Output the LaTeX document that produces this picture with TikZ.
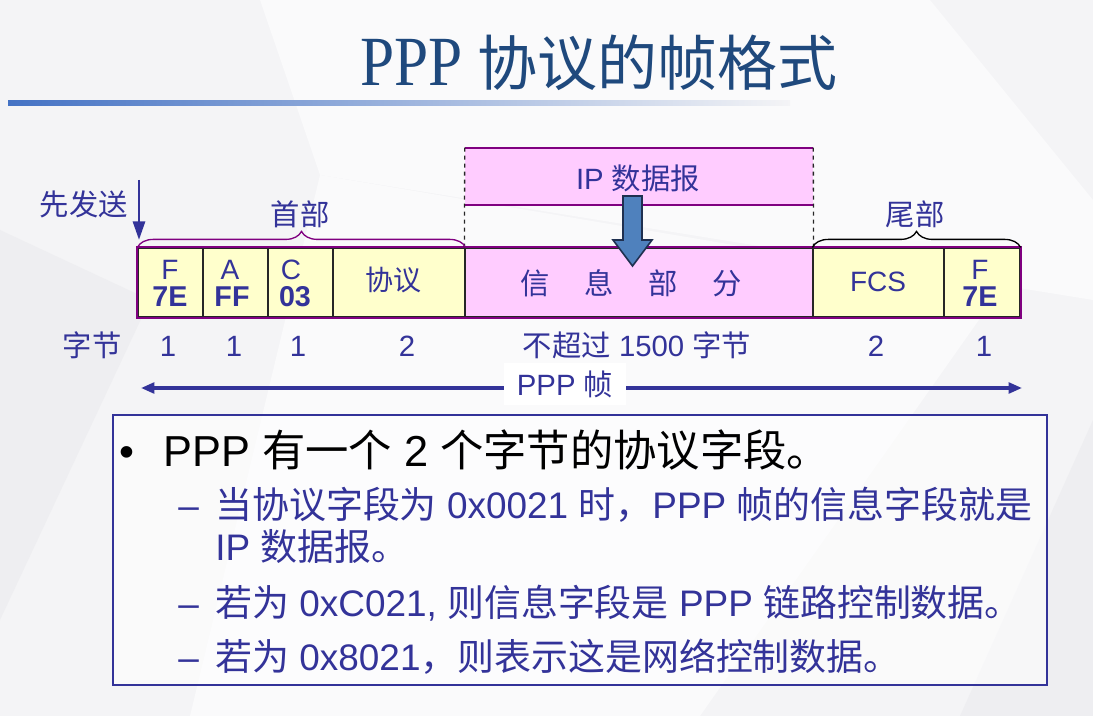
\documentclass[tikz,border=0pt]{standalone}
\usepackage{fontspec}
\setmainfont{Liberation Sans}
\newfontfamily\cjk{Noto Sans CJK SC}
\newfontfamily\titleserif{Liberation Serif}
\usetikzlibrary{decorations.pathreplacing,arrows.meta}
\definecolor{txtblue}{HTML}{333399}
\definecolor{titleblue}{HTML}{1F497D}
\definecolor{frameyellow}{HTML}{FFFFCC}
\definecolor{framepink}{HTML}{FFCCFF}
\definecolor{framepurple}{HTML}{800080}
\definecolor{bgcol}{HTML}{F4F4F6}
\definecolor{bglight}{HTML}{FAFAFB}
\definecolor{bgdark}{HTML}{EEEEF1}
\definecolor{lineblue}{HTML}{4472C4}
\definecolor{arrowfill}{HTML}{4F81BD}
\definecolor{arrowdraw}{HTML}{1F3050}
\newcommand\zh[1]{{\cjk #1}}
\newcommand\fsz[1]{\fontsize{#1}{1.2\dimexpr#1pt\relax}\selectfont}
\begin{document}
\begin{tikzpicture}[x=0.75pt,y=-0.75pt,
  fieldbox/.style={draw=black!85,line width=0.9pt,inner sep=0pt,minimum height=51.75pt},
  lbl/.style={text=txtblue,inner sep=0pt},
  small/.style={lbl,font=\fsz{21}},
  bold/.style={lbl,font=\fsz{21.5}\bfseries},
  mid/.style={lbl,font=\fsz{21}},
  row/.style={lbl,font=\fsz{22},anchor=base},
  brace/.style={decorate,decoration={brace,amplitude=12pt},line width=1pt},
  bodyline/.style={inner sep=0pt,anchor=base west,text=txtblue,font=\fsz{27.7}},
]
\useasboundingbox (0,0) rectangle (1093,716);
% background
\fill[bgcol] (0,0) rectangle (1093,716);
\fill[bglight] (260,0) -- (930,0) -- (1093,200) -- (1093,300) -- (320,175) -- cycle;
\fill[bglight] (320,175) -- (1000,290) -- (700,716) -- (190,716) -- cycle;
\fill[bgdark] (0,230) -- (150,300) -- (0,620) -- cycle;
\fill[bgdark] (1093,420) -- (960,716) -- (1093,716) -- cycle;
% title
\node[inner sep=0pt,anchor=base west,text=titleblue] (title) at (360,86)
  {\titleserif\fsz{46}\scalebox{1}[1.15]{PPP} \cjk\fsz{45}协议的帧格式};
\shade[left color=lineblue,right color=bgcol] (8,101) rectangle (790,106);

% IP datagram box
\node[fill=framepink,inner sep=0pt,minimum width=261pt,minimum height=42.75pt] (ip) at (639,176.5) {};
\node[lbl,font=\fsz{22}] (iptext) at (638,178) {IP \zh{数据报}};

% frame fields
\node[fieldbox,fill=frameyellow,minimum width=48.75pt] (bF) at (170.5,282.5) {};
\node[fieldbox,fill=frameyellow,minimum width=48.75pt] (bA) at (235.5,282.5) {};
\node[fieldbox,fill=frameyellow,minimum width=48.75pt] (bC) at (300.5,282.5) {};
\node[fieldbox,fill=frameyellow,minimum width=99pt] (bP) at (399,282.5) {};
\node[fieldbox,fill=framepink,minimum width=261pt] (bI) at (639,282.5) {};
\node[fieldbox,fill=frameyellow,minimum width=98.25pt] (bS) at (878.5,282.5) {};
\node[fieldbox,fill=frameyellow,minimum width=57pt] (bE) at (982,282.5) {};
\draw[framepurple,line width=1.4pt] (bF.north west) rectangle (bE.south east);

% IP box borders and dashed guides
\draw[framepurple,line width=1.4pt] (ip.north west) -- (ip.north east);
\draw[framepurple,line width=1.4pt] (ip.south west) -- (ip.south east);
\draw[black!85,dashed,line width=1pt] (ip.north west) -- (bI.north west);
\draw[black!85,dashed,line width=1pt] (ip.north east) -- (bI.north east);

% field texts
\node[small] (tF1) at (170,270) {F};
\node[bold] (tF2) at (170,297) {7E};
\node[small] (tA1) at (230,270) {A};
\node[bold] (tA2) at (232,297) {FF};
\node[small] (tC1) at (291,270) {C};
\node[bold] (tC2) at (295,297) {03};
\node[mid] (tP) at (393,280) {\zh{协议}};
\node[lbl,font=\fsz{22}] (tI) at (631,283) {\zh{信\hspace{26pt}息\hspace{26pt}部\hspace{26pt}分}};
\node[mid] (tS) at (878,282) {FCS};
\node[small] (tE1) at (980,270) {F};
\node[bold] (tE2) at (980,297) {7E};

% thick blue arrow
\filldraw[fill=arrowfill,draw=arrowdraw,line width=1.2pt,line join=miter]
  (623,196) -- (642,196) -- (642,240) -- (652,240) -- (632.5,266) -- (613,240) -- (623,240) -- cycle;

% braces
\draw[brace,framepurple] (bF.north west) -- (bP.north east);
\draw[brace,black] (bS.north west) -- (bE.north east);
\node[lbl,font=\fsz{22}] (head) at (300,214) {\zh{首部}};
\node[lbl,font=\fsz{22}] (tail) at (915,214) {\zh{尾部}};

% send first
\node[lbl,font=\fsz{22}] (first) at (84,204) {\zh{先发送}};
\coordinate (sa) at (139,180);
\coordinate (sb) at (139,240);
\draw[txtblue,line width=2.2pt,-{Triangle[length=14pt,width=9pt]}] (sa) -- (sb);

% byte counts row
\node[row] (r0) at (92,357) {\zh{字节}};
\node[row] (r1) at (168,357) {1};
\node[row] (r2) at (234,357) {1};
\node[row] (r3) at (298,357) {1};
\node[row] (r4) at (407,357) {2};
\node[row] (r5) at (637,357) {\zh{不超过} 1500 \zh{字节}};
\node[row] (r6) at (876,357) {2};
\node[row] (r7) at (984,357) {1};

% PPP frame arrow
\coordinate (pl) at (141,388);
\coordinate (pr) at (1022,388);
\draw[txtblue,line width=2.4pt,{Triangle[length=10pt,width=8pt]}-{Triangle[length=10pt,width=8pt]}] (pl) -- (pr);
\node[fill=white,inner sep=0pt,minimum width=91.5pt,minimum height=32pt,text=txtblue,font=\fsz{22}] (ppp) at (565,384) {PPP \zh{帧}};

% bottom text box
\node[draw=txtblue,line width=1.2pt,fill=white,fill opacity=0.55,inner sep=0pt,minimum width=700.5pt,minimum height=202.5pt] (note) at (580,550) {};
\node[inner sep=0pt,anchor=base west,font=\fsz{32}] (bul) at (119,467) {•};
\node[inner sep=0pt,anchor=base west,font=\fsz{32.5}] (l1) at (163,467) {PPP \zh{有一个} 2 \zh{个字节的协议字段。}};
\node[bodyline] (d1) at (178,518) {–};
\node[bodyline] (l2) at (215,518) {\zh{当协议字段为} 0x0021 \zh{时，}PPP \zh{帧的信息字段就是}};
\node[bodyline] (l3) at (215,561) {IP \zh{数据报。}};
\node[bodyline] (d2) at (178,616) {–};
\node[bodyline] (l4) at (215,616) {\zh{若为} 0xC021, \zh{则信息字段是} PPP \zh{链路控制数据。}};
\node[bodyline] (d3) at (178,670) {–};
\node[bodyline] (l5) at (215,670) {\zh{若为} 0x8021\zh{，则表示这是网络控制数据。}};
\end{tikzpicture}
\end{document}
